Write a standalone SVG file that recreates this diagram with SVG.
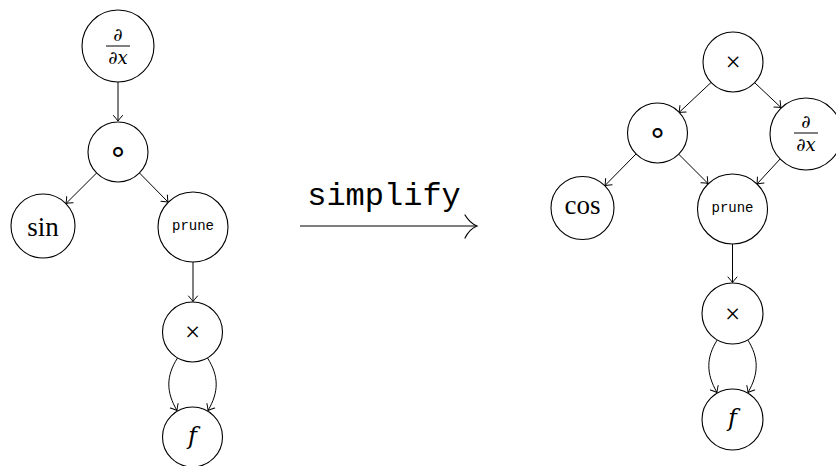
<svg xmlns="http://www.w3.org/2000/svg" width="836" height="466" viewBox="0 0 836 466">
<defs>
<marker id="ah" markerUnits="userSpaceOnUse" markerWidth="12" markerHeight="12" refX="0" refY="0" viewBox="-7 -6 8 12" orient="auto" overflow="visible">
<path d="M -5.5 -4.5 Q -1.5 -1 0 0 Q -1.5 1 -5.5 4.5" fill="none" stroke="#000" stroke-width="1" stroke-linecap="round"/>
</marker>
</defs>
<style>
.n{fill:#fff;stroke:#000;stroke-width:1.1}
.e{fill:none;stroke:#000;stroke-width:1;marker-end:url(#ah)}
.s{font-family:"Liberation Serif",serif;fill:#000;text-anchor:middle}
.i{font-family:"DejaVu Serif","Liberation Serif",serif;font-style:italic;fill:#000;text-anchor:middle}
.m{font-family:"Liberation Mono",monospace;fill:#000;text-anchor:middle}
.d{font-family:"Liberation Serif",serif;fill:#000;text-anchor:middle}
.c{font-family:"DejaVu Sans",sans-serif;fill:#000;text-anchor:middle}
</style>
<rect width="836" height="466" fill="#fff"/>
<g id="connectors">
<line class="e" x1="118" y1="82" x2="118" y2="121"/>
<line class="e" x1="96.6" y1="173" x2="66" y2="203.5"/>
<line class="e" x1="139.5" y1="173" x2="168" y2="202"/>
<line class="e" x1="193" y1="262" x2="193" y2="301.5"/>
<path class="e" d="M 177.5 358 C 166 376 166 392 177 410.5"/>
<path class="e" d="M 207.5 358 C 219 376 219 392 208 410.5"/>
<line class="e" x1="711" y1="82.5" x2="679" y2="112.5"/>
<line class="e" x1="755" y1="83" x2="781" y2="107.5"/>
<line class="e" x1="636" y1="154" x2="605" y2="185.5"/>
<line class="e" x1="678.5" y1="154" x2="708" y2="183.5"/>
<line class="e" x1="781" y1="158" x2="757" y2="184"/>
<line class="e" x1="732.5" y1="244" x2="732.5" y2="282.5"/>
<path class="e" d="M 717.5 339.5 C 706 357.5 706 373.5 717 392.5"/>
<path class="e" d="M 747.5 339.5 C 759 357.5 759 373.5 748 392.5"/>
</g>
<g id="simplify">
<text class="m" x="384" y="205" font-size="32">simplify</text>
<line x1="300" y1="226" x2="476" y2="226" stroke="#000" stroke-width="1.2"/>
<path d="M 465 215 C 468 220 472 224 477 226 C 472 228 468 232 465 238" fill="none" stroke="#000" stroke-width="1.2" stroke-linecap="round"/>
</g>
<g id="L_ddx">
<circle class="n" cx="118" cy="46" r="36"/>
<text class="i" x="118" y="41" font-size="18">∂</text>
<line x1="106" y1="46" x2="130" y2="46" stroke="#000" stroke-width="1"/>
<text class="i" x="118" y="64" font-size="18">∂x</text>
</g>
<g id="L_comp">
<circle class="n" cx="118" cy="152" r="30"/>
<text class="c" x="118" y="162" font-size="32">∘</text>
</g>
<g id="L_sin">
<circle class="n" cx="43" cy="226" r="32"/>
<text class="s" x="43" y="236" font-size="27">sin</text>
</g>
<g id="L_prune">
<circle class="n" cx="193" cy="227" r="35"/>
<text class="m" x="193" y="230" font-size="14">prune</text>
</g>
<g id="L_times">
<circle class="n" cx="192.5" cy="332" r="30"/>
<text class="d" x="192.5" y="341" font-size="27">×</text>
</g>
<g id="L_f">
<circle class="n" cx="192.5" cy="437" r="30"/>
<text class="i" x="192.5" y="444" font-size="24">f</text>
</g>
<g id="R_times_top">
<circle class="n" cx="733" cy="62" r="30"/>
<text class="d" x="733" y="71" font-size="27">×</text>
</g>
<g id="R_comp">
<circle class="n" cx="657.5" cy="133" r="30"/>
<text class="c" x="657.5" y="143" font-size="32">∘</text>
</g>
<g id="R_ddx">
<circle class="n" cx="806" cy="134" r="36"/>
<text class="i" x="806" y="128" font-size="18">∂</text>
<line x1="794" y1="133" x2="818" y2="133" stroke="#000" stroke-width="1"/>
<text class="i" x="806" y="151" font-size="18">∂x</text>
</g>
<g id="R_cos">
<circle class="n" cx="582.5" cy="208" r="31.5"/>
<text class="s" x="582.5" y="214" font-size="27">cos</text>
</g>
<g id="R_prune">
<circle class="n" cx="732.5" cy="209" r="35"/>
<text class="m" x="732.5" y="212" font-size="14">prune</text>
</g>
<g id="R_times">
<circle class="n" cx="732.5" cy="313.5" r="30.5"/>
<text class="d" x="732.5" y="322.5" font-size="27">×</text>
</g>
<g id="R_f">
<circle class="n" cx="732.5" cy="419.5" r="30.5"/>
<text class="i" x="732.5" y="426" font-size="24">f</text>
</g>
</svg>
